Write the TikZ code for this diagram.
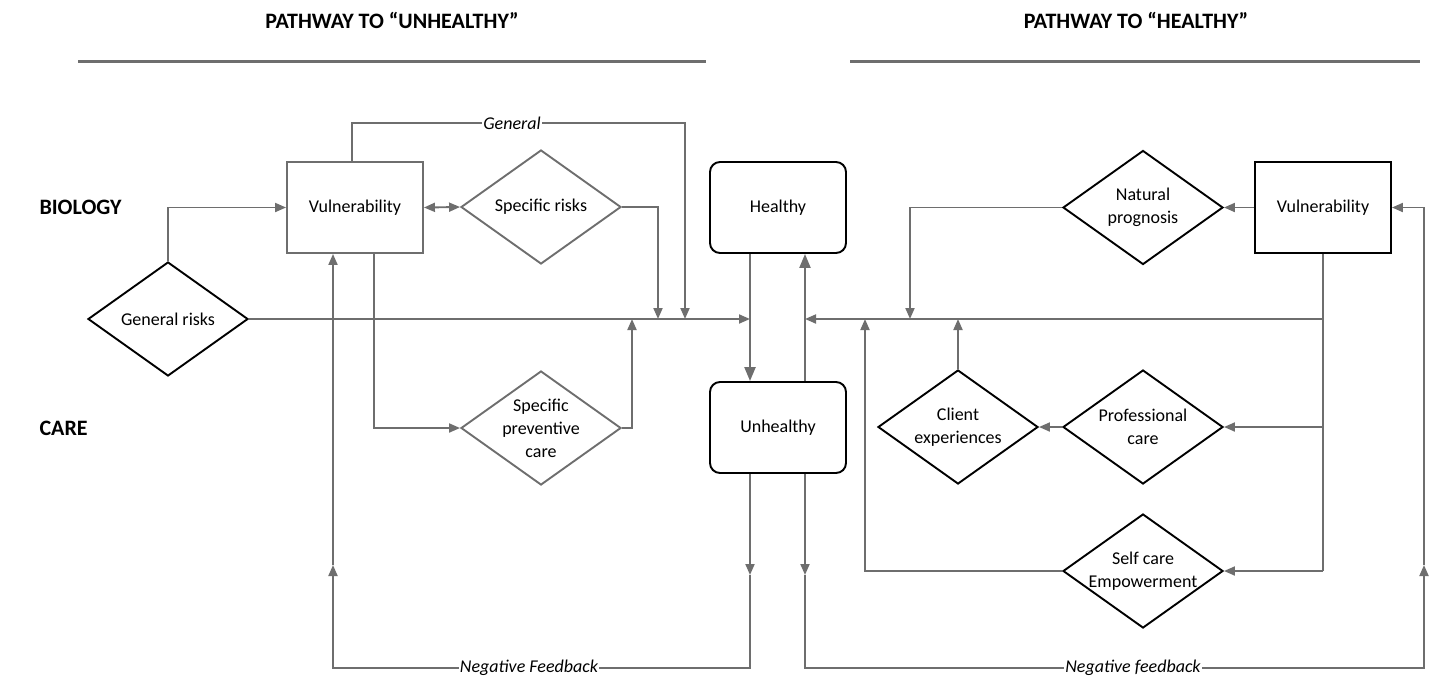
\documentclass[tikz,border=0pt]{standalone}
\usepackage{fontspec}
\setmainfont{Carlito}
\usetikzlibrary{shapes.geometric,arrows.meta}
\definecolor{lgray}{HTML}{6E6E6E}
\begin{document}
\begin{tikzpicture}[x=1pt,y=-1pt,
  conn/.style={draw=lgray, line width=1.9pt},
  tip/.tip={Triangle[length=11pt,width=9pt]},
  bigtip/.tip={Triangle[length=14pt,width=11pt]},
  arr/.style={conn,-tip},
  bigarr/.style={conn,line width=2.2pt,-bigtip},
  boxbase/.style={rectangle, minimum width=136pt, minimum height=91pt, inner sep=0pt, line width=1.9pt, font=\fontsize{18}{22}\selectfont, align=center},
  gbox/.style={boxbase, draw=lgray},
  bbox/.style={boxbase, draw=black},
  rbox/.style={boxbase, draw=black, rounded corners=10pt},
  dia/.style={diamond, minimum width=160pt, minimum height=114pt, inner sep=0pt, line width=1.9pt},
  gdia/.style={dia, draw=lgray},
  bdia/.style={dia, draw=black},
  diatext/.style={label={[align=center, font=\fontsize{18}{23}\selectfont]center:#1}},
  lbl/.style={fill=white, inner sep=1pt, font=\fontsize{18}{22}\selectfont\itshape},
  head/.style={font=\fontsize{22}{26}\selectfont\bfseries},
  row/.style={font=\fontsize{22}{26}\selectfont\bfseries, anchor=west},
  rule/.style={draw=lgray, line width=3pt}
]
\useasboundingbox (0,0) rectangle (1435,678);

% headings
\node[head] (t1) at (392,20) {PATHWAY TO “UNHEALTHY”};
\node[head] (t2) at (1136,20) {PATHWAY TO “HEALTHY”};
\coordinate (l1a) at (78,61); \coordinate (l1b) at (706,61);
\coordinate (l2a) at (850,61); \coordinate (l2b) at (1420,61);
\draw[rule] (l1a) -- (l1b);
\draw[rule] (l2a) -- (l2b);
\node[row] (bio) at (36,207) {BIOLOGY};
\node[row] (care) at (36,428) {CARE};

% nodes
\node[gbox] (vl) at (355,207.5) {Vulnerability};
\node[gdia, diatext={Specific risks}] (sr) at (541,207) {};
\node[bdia, diatext={General risks}] (gr) at (168,319) {};
\node[gdia, diatext={Specific\\preventive\\care}] (spc) at (541,428) {};
\node[rbox] (he) at (778,207.5) {Healthy};
\node[rbox] (un) at (778,427.5) {Unhealthy};
\node[bdia, diatext={Natural\\prognosis}] (np) at (1143,207.5) {};
\node[bbox] (rv) at (1323,207.5) {Vulnerability};
\node[bdia, diatext={Client\\experiences}] (ce) at (958,427) {};
\node[bdia, diatext={Professional\\care}] (pc) at (1143,427) {};
\node[bdia, diatext={Self care\\Empowerment}] (sc) at (1143,571) {};

% junction coordinates
\coordinate (jL) at (750,319);
\coordinate (gA) at (685,319);
\coordinate (sA) at (658,319);
\coordinate (pA) at (632,319);
\coordinate (gTop) at (355,123);
\coordinate (nfA) at (750,575);
\coordinate (nfB) at (750,668);
\coordinate (nfC) at (333,668);
\coordinate (nfD) at (333,565);
\coordinate (rA) at (805,319);
\coordinate (r1) at (1323,319);
\coordinate (r2) at (1323,427);
\coordinate (r3) at (1323,571);
\coordinate (nA) at (910,319);
\coordinate (cA) at (958,319);
\coordinate (scA) at (865,319);
\coordinate (nrA) at (805,575);
\coordinate (nrB) at (805,668);
\coordinate (nrC) at (1424,668);
\coordinate (nrD) at (1424,565);
\coordinate (nrE) at (1424,207.5);

% left side connectors
\draw[arr] (gr.north) |- (vl.west);
\draw[arr] (gr.east) -- (jL);
\draw[conn,tip-tip] (vl.east) -- (sr.west);
\draw[arr] ([xshift=-3pt]vl.north) -- ([xshift=-3pt]gTop) -| (gA);
\node[lbl] (glbl) at (512,123) {General};
\draw[arr] (sr.east) -| (sA);
\draw[arr] ([xshift=19pt]vl.south) |- (spc.west);
\draw[arr] (spc.east) -| (pA);

% healthy / unhealthy
\draw[bigarr] ([xshift=-28pt]he.south) -- ([xshift=-28pt]un.north);
\draw[bigarr] ([xshift=27pt]un.north) -- ([xshift=27pt]he.south);

% negative feedback left
\draw[arr] ([xshift=-28pt]un.south) -- (nfA);
\draw[arr] (nfA) -- (nfB) -- (nfC) -- (nfD);
\draw[arr] (nfD) -- ([xshift=-22pt]vl.south);
\node[lbl] (nfl) at (529,668) {Negative Feedback};

% right side connectors
\draw[conn] (rv.south) -- (r3);
\draw[arr] (r1) -- (rA);
\draw[arr] (r2) -- (pc.east);
\draw[arr] (r3) -- (sc.east);
\draw[arr] (rv.west) -- (np.east);
\draw[arr] (np.west) -| (nA);
\draw[arr] (ce.north) -- (cA);
\draw[arr] (pc.west) -- (ce.east);
\draw[arr] (sc.west) -| (scA);

% negative feedback right
\draw[arr] ([xshift=27pt]un.south) -- (nrA);
\draw[arr] (nrA) -- (nrB) -- (nrC) -- (nrD);
\draw[arr] (nrD) -- (nrE) -- (rv.east);
\node[lbl] (nfr) at (1133,668) {Negative feedback};
\end{tikzpicture}
\end{document}
